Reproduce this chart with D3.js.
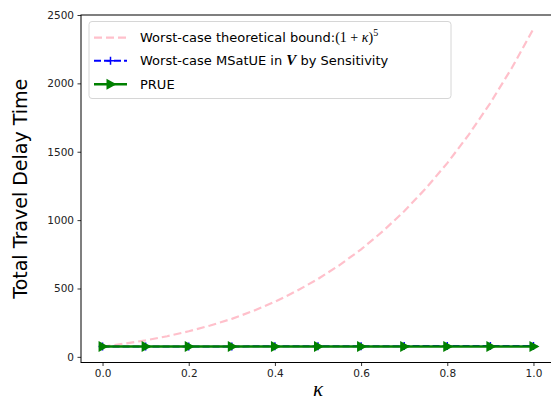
<!DOCTYPE html>
<html>
<head>
<meta charset="utf-8">
<script src="https://cdn.jsdelivr.net/npm/d3@7"></script>
<style>
  body { margin: 0; background: #fff; }
  text { font-family: "DejaVu Sans", sans-serif; }
</style>
</head>
<body>
<script>
const W = 551, H = 402;
const m = {left: 81, top: 15, right: 555, bottom: 362.5};

// data
const kappaBound = [0, 0.05, 0.1, 0.15, 0.2, 0.25, 0.3, 0.35, 0.4, 0.45, 0.5,
  0.55, 0.6, 0.65, 0.7, 0.75, 0.8, 0.85, 0.9, 0.95, 1.0];
const boundValues = [75, 96, 121, 151, 187, 229, 278, 336, 403, 481, 570,
  671, 786, 917, 1065, 1231, 1417, 1625, 1857, 2114, 2400];
const kappa = [0, 0.1, 0.2, 0.3, 0.4, 0.5, 0.6, 0.7, 0.8, 0.9, 1.0];
const msatue = [75, 75.5, 76, 76.5, 77, 77.5, 78, 78.5, 79, 79.5, 80];
const prue = [75, 75, 75, 75, 75, 75, 75, 75, 75, 75, 75];
const xTicks = [0, 0.2, 0.4, 0.6, 0.8, 1.0];
const yTicks = [0, 500, 1000, 1500, 2000, 2500];

const svg = d3.select('body').append('svg')
  .attr('width', W)
  .attr('height', H);

const x = d3.scaleLinear().domain([-0.05, 1.05]).range([m.left, m.right]);
const y = d3.scaleLinear().domain([-41.25, 2500]).range([m.bottom, m.top]);

const line = d3.line().x(d => x(d[0])).y(d => y(d[1]));
const mathFont = '"Liberation Serif", "DejaVu Serif", serif';

const plot = svg.append('g');

// pink bound
plot.append('path')
  .datum(kappaBound.map((k, i) => [k, boundValues[i]]))
  .attr('d', line)
  .attr('fill', 'none')
  .attr('stroke', 'pink')
  .attr('stroke-width', 2.2)
  .attr('stroke-dasharray', '8,4');

// blue MSatUE
const blueData = kappa.map((k, i) => [k, msatue[i]]);
plot.append('path')
  .datum(blueData)
  .attr('d', line)
  .attr('fill', 'none')
  .attr('stroke', 'blue')
  .attr('stroke-width', 2)
  .attr('stroke-dasharray', '7,3');
plot.selectAll('.plus')
  .data(blueData)
  .join('path')
  .attr('d', d => `M${x(d[0]) - 4},${y(d[1])}h8M${x(d[0])},${y(d[1]) - 4}v8`)
  .attr('stroke', 'blue')
  .attr('stroke-width', 1.5);

// green PRUE
const greenData = kappa.map((k, i) => [k, prue[i]]);
plot.append('path')
  .datum(greenData)
  .attr('d', line)
  .attr('fill', 'none')
  .attr('stroke', 'green')
  .attr('stroke-width', 2.5);
const tri = (cx, cy) => `M${cx + 6},${cy}L${cx - 4},${cy - 5.5}L${cx - 4},${cy + 5.5}Z`;
plot.selectAll('.tri')
  .data(greenData)
  .join('path')
  .attr('d', d => tri(x(d[0]), y(d[1])))
  .attr('fill', 'green');

// axes
const xAxis = svg.append('g')
  .attr('transform', `translate(0,${m.bottom})`)
  .call(d3.axisBottom(x).tickValues(xTicks).tickFormat(d3.format('.1f')).tickSize(3.5).tickPadding(3.5));
const yAxis = svg.append('g')
  .attr('transform', `translate(${m.left},0)`)
  .call(d3.axisLeft(y).tickValues(yTicks).tickFormat(d3.format('d')).tickSize(3.5).tickPadding(3.5));
[xAxis, yAxis].forEach(a => {
  a.select('.domain').remove();
  a.selectAll('text').style('font-size', '10.5px').attr('fill', '#222');
  a.selectAll('line').attr('stroke', '#000').attr('stroke-width', 0.8);
});

svg.append('rect')
  .attr('x', m.left).attr('y', m.top)
  .attr('width', m.right - m.left).attr('height', m.bottom - m.top)
  .attr('fill', 'none').attr('stroke', '#000').attr('stroke-width', 1);

// labels
svg.append('text')
  .attr('transform', `translate(27,${(m.top + m.bottom) / 2}) rotate(-90)`)
  .attr('text-anchor', 'middle')
  .style('font-size', '19px')
  .text('Total Travel Delay Time');

svg.append('text')
  .attr('x', x(0.5)).attr('y', 396)
  .attr('text-anchor', 'middle')
  .style('font-family', mathFont)
  .style('font-style', 'italic')
  .style('font-size', '21px')
  .text('κ');

// legend
const lg = svg.append('g');
lg.append('rect')
  .attr('x', 89).attr('y', 21.5).attr('width', 362).attr('height', 77).attr('rx', 3)
  .attr('fill', 'rgba(255,255,255,0.8)').attr('stroke', '#d6d6d6').attr('stroke-width', 1);

const rows = [37.7, 60.8, 84.2];
lg.append('line').attr('x1', 94).attr('x2', 127).attr('y1', rows[0]).attr('y2', rows[0])
  .attr('stroke', 'pink').attr('stroke-width', 2.2).attr('stroke-dasharray', '8,4');
lg.append('line').attr('x1', 94).attr('x2', 127).attr('y1', rows[1]).attr('y2', rows[1])
  .attr('stroke', 'blue').attr('stroke-width', 2).attr('stroke-dasharray', '7,3');
lg.append('path').attr('d', `M110.5,${rows[1] - 4}v8M106.5,${rows[1]}h8`).attr('stroke', 'blue').attr('stroke-width', 1.5);
lg.append('line').attr('x1', 94).attr('x2', 127).attr('y1', rows[2]).attr('y2', rows[2])
  .attr('stroke', 'green').attr('stroke-width', 2.5);
lg.append('path').attr('d', tri(110.5, rows[2])).attr('fill', 'green');

const t1 = lg.append('text').attr('x', 140).attr('y', rows[0] + 4.5).style('font-size', '13px');
t1.append('tspan').text('Worst-case theoretical bound:');
t1.append('tspan').style('font-family', mathFont).style('font-size', '14px').text('(1 + ');
t1.append('tspan').style('font-family', mathFont).style('font-size', '14px').style('font-style', 'italic').text('κ');
t1.append('tspan').style('font-family', mathFont).style('font-size', '14px').text(')');
t1.append('tspan').attr('dy', -6).style('font-family', mathFont).style('font-size', '10px').text('5');

const t2 = lg.append('text').attr('x', 140).attr('y', rows[1] + 4.5).style('font-size', '13px');
t2.append('tspan').text('Worst-case MSatUE in ');
t2.append('tspan').style('font-family', mathFont).style('font-size', '15px').style('font-style', 'italic').style('font-weight', 'bold').text('V');
t2.append('tspan').text(' by Sensitivity');

lg.append('text').attr('x', 140).attr('y', rows[2] + 4.5).style('font-size', '13px').text('PRUE');
</script>
</body>
</html>
